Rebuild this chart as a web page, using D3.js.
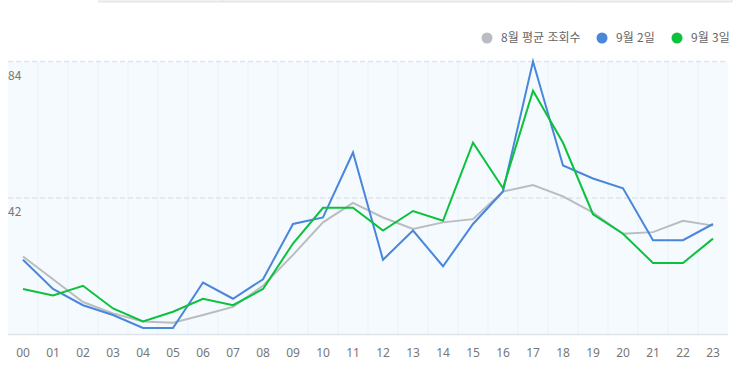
<!DOCTYPE html>
<html lang="ko">
<head>
<meta charset="utf-8">
<title>시간대별 조회수</title>
<script src="https://cdn.jsdelivr.net/npm/d3@7"></script>
<style>
  body { margin: 0; background: #fff; font-family: "Noto Sans CJK KR", "Noto Sans", sans-serif; }
  .axis text { fill: #777; font-size: 12px; }
  .legend text { fill: #666; font-size: 12px; }
</style>
</head>
<body>
<script>
// data
var hours = ["00","01","02","03","04","05","06","07","08","09","10","11",
             "12","13","14","15","16","17","18","19","20","21","22","23"];
var augAvg = [24,17,10,6.5,4,3.6,6,8.5,15,24.5,34.5,40.5,36,32.5,34.5,35.5,44,46,42.5,37.5,31,31.5,35,33.5];
var sep2   = [23,14,9,6,2,2,16,11,17,34,36,56,23,32,21,34,44,84,52,48,45,29,29,34];
var sep3   = [14,12,15,8,4,7,11,9,14,28,39,39,32,38,35,59,45,75,59,37,31,22,22,29.5];
var yTicks = [42, 84];
var seriesNames = ["8월 평균 조회수", "9월 2일", "9월 3일"];
var colors = ["#b9bcc0", "#4a86d9", "#0cc13c"];

var w = 743, h = 375;
var plotLeft = 8, plotRight = 728, plotTop = 61.5, plotBottom = 334.5;

var svg = d3.select("body").append("svg")
    .attr("width", w)
    .attr("height", h);

// leftover tab border on top of the page
svg.append("line")
    .attr("x1", 98).attr("x2", 732).attr("y1", 1.5).attr("y2", 1.5)
    .attr("stroke", "#e6e6e6").attr("stroke-width", 2);
[222, 368, 568, 732].forEach(function(x){
    svg.append("line").attr("x1", x).attr("x2", x).attr("y1", 0).attr("y2", 2)
        .attr("stroke", "#e0e0e0");
});

var x = d3.scaleBand().domain(hours).range([plotLeft, plotRight]);
var y = d3.scaleLinear().domain([0, 84]).range([plotBottom, plotTop]);

// background
svg.append("rect")
    .attr("x", plotLeft).attr("y", plotTop)
    .attr("width", plotRight - plotLeft).attr("height", plotBottom - plotTop)
    .attr("fill", "#f5faff");

// vertical band separators
svg.selectAll(".vgrid")
    .data(hours.slice(1))
    .enter().append("line")
    .attr("class", "vgrid")
    .attr("x1", function(d){ return x(d); })
    .attr("x2", function(d){ return x(d); })
    .attr("y1", plotTop).attr("y2", plotBottom)
    .attr("stroke", "#e8f3fd").attr("stroke-width", 1);

// dashed horizontal gridlines
svg.selectAll(".hgrid")
    .data(yTicks)
    .enter().append("line")
    .attr("class", "hgrid")
    .attr("x1", plotLeft).attr("x2", plotRight)
    .attr("y1", function(d){ return y(d); })
    .attr("y2", function(d){ return y(d); })
    .attr("stroke", "#dfe4ea").attr("stroke-width", 1.5)
    .attr("stroke-dasharray", "5,3");

// y labels
svg.append("g").attr("class", "axis")
    .selectAll("text")
    .data(yTicks)
    .enter().append("text")
    .attr("x", plotLeft)
    .attr("y", function(d){ return y(d) + 18; })
    .text(function(d){ return d; });

// baseline
svg.append("line")
    .attr("x1", plotLeft).attr("x2", plotRight)
    .attr("y1", plotBottom).attr("y2", plotBottom)
    .attr("stroke", "#dde4ec").attr("stroke-width", 1.5);

// x axis
var xAxis = d3.axisBottom(x).tickSize(0).tickPadding(14);
svg.append("g")
    .attr("class", "axis")
    .attr("transform", "translate(0," + plotBottom + ")")
    .call(xAxis)
    .call(function(g){ g.select(".domain").remove(); })
    .selectAll("text")
    .style("font-size", "12px")
    .style("font-family", "\"Noto Sans\", sans-serif");

// lines
var line = d3.line()
    .x(function(d, i){ return x(hours[i]) + x.bandwidth() / 2; })
    .y(function(d){ return y(d); });

[augAvg, sep2, sep3].forEach(function(s, k){
    svg.append("path")
        .datum(s)
        .attr("d", line)
        .attr("fill", "none")
        .attr("stroke", colors[k])
        .attr("stroke-width", 2)
        .attr("stroke-linejoin", "miter");
});

// legend
var legendX = [487, 602, 677];
var lg = svg.append("g").attr("class", "legend");
seriesNames.forEach(function(name, k){
    lg.append("circle")
        .attr("cx", legendX[k]).attr("cy", 38).attr("r", 5.5)
        .attr("fill", colors[k]);
    lg.append("text")
        .attr("x", legendX[k] + 14).attr("y", 42)
        .text(name);
});
</script>
</body>
</html>
